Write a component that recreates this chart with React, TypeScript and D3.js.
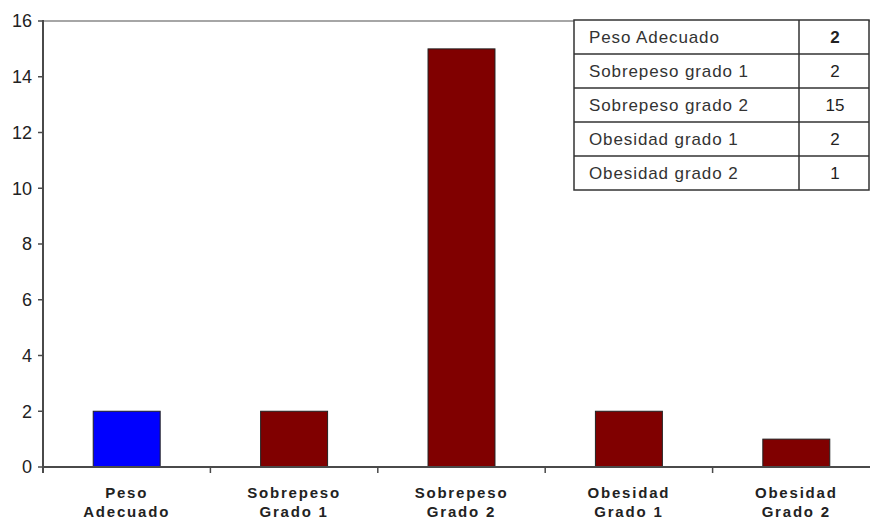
import React from "react";
import * as d3 from "d3";

const categories = ["Peso Adecuado", "Sobrepeso Grado 1", "Sobrepeso Grado 2", "Obesidad Grado 1", "Obesidad Grado 2"];
const categoryLines = [["Peso", "Adecuado"], ["Sobrepeso", "Grado 1"], ["Sobrepeso", "Grado 2"], ["Obesidad", "Grado 1"], ["Obesidad", "Grado 2"]];
const values = [2, 2, 15, 2, 1];
const barColors = ["#0000ff", "#800000", "#800000", "#800000", "#800000"];
const tableLabels = ["Peso Adecuado", "Sobrepeso grado 1", "Sobrepeso grado 2", "Obesidad grado 1", "Obesidad grado 2"];
const yTicks = [0, 2, 4, 6, 8, 10, 12, 14, 16];

export default function App() {
  const W = 870, H = 521;
  const x0 = 43, yBottom = 467, yTop = 21;
  const band = 167.4;
  const x = d3.scaleBand<string>().domain(categories).range([x0, x0 + band * 5]).paddingInner(0.6).paddingOuter(0.3);
  const y = d3.scaleLinear().domain([0, 16]).range([yBottom, yTop]);
  const axisColor = "#4a4a4a";

  const tblX = 574, tblY = 20, rowH = 34, col1 = 799, tblR = 869;

  return (
    <svg width={W} height={H} style={{ position: "absolute", left: 0, top: 0, background: "#fff" }}
      fontFamily="'Liberation Sans', Arial, sans-serif">
      {/* top frame line */}
      <line x1={x0} x2={W} y1={y(16)} y2={y(16)} stroke="#888" strokeWidth={1.5} />
      {/* bars */}
      {values.map((v, i) => (
        <rect key={i} x={x(categories[i])} y={y(v)} width={x.bandwidth()} height={y(0) - y(v)}
          fill={barColors[i]} stroke="#222" strokeWidth={1} />
      ))}
      {/* y axis */}
      <line x1={x0} x2={x0} y1={yTop - 1} y2={yBottom + 6} stroke={axisColor} strokeWidth={2} />
      {yTicks.map(t => (
        <g key={t}>
          <line x1={x0 - 5} x2={x0} y1={y(t)} y2={y(t)} stroke={axisColor} strokeWidth={1.5} />
          <text x={32} y={y(t)} dy="0.36em" textAnchor="end" fontSize={18} fill="#222">{t}</text>
        </g>
      ))}
      {/* x axis */}
      <line x1={x0} x2={W} y1={yBottom} y2={yBottom} stroke={axisColor} strokeWidth={2} />
      {[1, 2, 3, 4].map(k => (
        <line key={k} x1={x0 + band * k} x2={x0 + band * k} y1={yBottom} y2={yBottom + 6} stroke={axisColor} strokeWidth={1.5} />
      ))}
      {categoryLines.map((lines, i) => {
        const cx = (x(categories[i]) as number) + x.bandwidth() / 2;
        return (
          <text key={i} x={cx} textAnchor="middle" fontSize={15} fontWeight="bold" fill="#222" letterSpacing={1.8}>
            <tspan x={cx} y={498}>{lines[0]}</tspan>
            <tspan x={cx} y={517}>{lines[1]}</tspan>
          </text>
        );
      })}
      {/* data table */}
      <rect x={tblX} y={tblY} width={tblR - tblX} height={rowH * 5} fill="#fff" stroke="#333" strokeWidth={1.5} />
      {tableLabels.map((lab, i) => (
        <g key={i}>
          {i > 0 && <line x1={tblX} x2={tblR} y1={tblY + rowH * i} y2={tblY + rowH * i} stroke="#333" strokeWidth={1.5} />}
          <text x={589} y={tblY + rowH * i + rowH / 2} dy="0.36em" fontSize={17} fill="#333" letterSpacing={0.9}>{lab}</text>
          <text x={835} y={tblY + rowH * i + rowH / 2} dy="0.36em" fontSize={17} fill="#222" textAnchor="middle"
            fontWeight={i === 0 ? "bold" : "normal"}>{values[i]}</text>
        </g>
      ))}
      <line x1={col1} x2={col1} y1={tblY} y2={tblY + rowH * 5} stroke="#333" strokeWidth={1.5} />
    </svg>
  );
}
